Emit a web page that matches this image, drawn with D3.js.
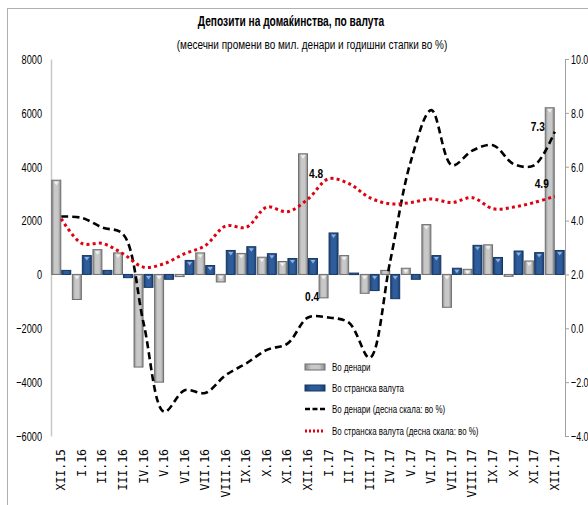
<!DOCTYPE html>
<html><head><meta charset="utf-8">
<script src="https://cdn.jsdelivr.net/npm/d3@7/dist/d3.min.js"></script>
<style>
html,body{margin:0;padding:0;background:#fff;}
svg{display:block;}
</style></head>
<body>
<svg id="chart" width="588" height="505"></svg>
<script>
const categories = ["XII.15","I.16","II.16","III.16","IV.16","V.16","VI.16","VII.16","VIII.16","IX.16","X.16","XI.16","XII.16","I.17","II.17","III.17","IV.17","V.17","VI.17","VII.17","VIII.17","IX.17","X.17","XI.17","XII.17"];
const denariBars  = [3500,-930,920,800,-3440,-4000,-80,800,-280,780,640,480,4480,-870,700,-700,150,230,1850,-1220,190,1100,-70,500,6190];
const foreignBars = [150,700,150,-120,-480,-180,520,330,890,1030,770,590,590,1540,50,-600,-900,-180,700,230,1080,630,870,810,890];
const denariRate  = [4.15,4.1,3.74,3.5,0.2,-3.1,-2.3,-2.4,-1.74,-1.3,-0.8,-0.57,0.4,0.4,0.2,-1.1,2.5,6.2,8.1,6.05,6.6,6.8,6.1,6.05,7.3];
const foreignRate = [4.07,3.15,3.15,2.77,2.27,2.4,2.77,3.07,3.8,3.75,4.5,4.33,4.8,5.55,5.37,4.85,4.62,4.67,4.8,4.67,4.85,4.44,4.5,4.67,4.9];
const leftTicks  = [-6000,-4000,-2000,0,2000,4000,6000,8000];
const rightTicks = [-4,-2,0,2,4,6,8,10];
const titleText = "Депозити на домаќинства, по валута";
const subtitleText = "(месечни промени во мил. денари и годишни стапки во %)";
const legendLabels = ["Во денари","Во странска валута","Во денари (десна скала: во %)","Во странска валута (десна скала: во %)"];
const pointLabels = [{series:"d",i:12,text:"0.4"},{series:"f",i:12,text:"4.8"},{series:"d",i:24,text:"7.3"},{series:"f",i:24,text:"4.9"}];

const svg = d3.select("#chart");
const FONT = "'Liberation Sans',Arial,sans-serif";

function ctext(parent, x, y, txt, size, sx, anchor, weight){
  return parent.append("text")
    .attr("transform",`translate(${x},${y}) scale(${sx},1)`)
    .attr("text-anchor",anchor||"start")
    .style("font-family",FONT).style("font-size",size+"px")
    .style("font-weight",weight||"normal").attr("fill","#000").text(txt);
}

const defs = svg.append("defs");
function grad(id, edge, mid){
  const g = defs.append("linearGradient").attr("id",id).attr("x1","0").attr("x2","1").attr("y1","0").attr("y2","0");
  g.append("stop").attr("offset","0%").attr("stop-color",edge);
  g.append("stop").attr("offset","30%").attr("stop-color",mid);
  g.append("stop").attr("offset","70%").attr("stop-color",mid);
  g.append("stop").attr("offset","100%").attr("stop-color",edge);
}
grad("gGray","#8a8a8a","#c8c8c8");
grad("gBlue","#1b3f72","#2f5d9c");

// frame
svg.append("rect").attr("x",7.5).attr("y",8.5).attr("width",700).attr("height",700)
  .attr("fill","none").attr("stroke","#b0b0b0");

const x0 = d3.scaleBand().domain(categories).range([51,565]).paddingInner(0.03).paddingOuter(0.015);
const x1 = d3.scaleBand().domain(["d","f"]).range([0,x0.bandwidth()]).padding(0);
const yL = d3.scaleLinear().domain([-6000,8000]).range([436,59]);
const yR = d3.scaleLinear().domain([-4,10]).range([436,59]);

// title
ctext(svg, 291, 26, titleText, 15, 0.68, "middle", "bold");
ctext(svg, 312, 49, subtitleText, 13.5, 0.74, "middle");

// axes with condensed labels
function condenseAxis(g, sx){
  g.selectAll(".tick text").each(function(){
    const t = d3.select(this);
    const x = +t.attr("x");
    t.attr("x",0).attr("transform",`translate(${x},0) scale(${sx},1)`)
     .style("font-family",FONT).style("font-size","13.5px").attr("fill","#000");
  });
}
const axL = d3.axisLeft(yL).tickValues(leftTicks).tickSize(0).tickPadding(9).tickFormat(d3.format("d"));
const gL = svg.append("g").attr("transform","translate(51,0)").call(axL);
gL.select(".domain").attr("stroke","#c8c8c8").attr("stroke-width",1.5);
condenseAxis(gL, 0.68);

const axR = d3.axisRight(yR).tickValues(rightTicks).tickSize(4).tickPadding(2).tickFormat(d3.format(".1f"));
const gR = svg.append("g").attr("transform","translate(565,0)").call(axR);
gR.select(".domain").attr("stroke","#a0a0a0");
gR.selectAll(".tick line").attr("stroke","#a0a0a0");
condenseAxis(gR, 0.66);

// x labels
const gx = svg.append("g");
gx.selectAll("text").data(categories).enter().append("text")
  .attr("transform",d=>`translate(${x0(d)+x0.bandwidth()/2+4},449) rotate(-90)`)
  .attr("text-anchor","end")
  .style("font-family","'DejaVu Sans Mono',monospace").style("font-size","11.5px")
  .text(d=>d);

// bars
function drawBars(values, key, fill, stroke, tri){
  const g = svg.append("g");
  const w = x1.bandwidth();
  const items = values.map((v,i)=>({v,i}));
  g.selectAll("rect").data(items).enter().append("rect")
    .attr("x",d=>x0(categories[d.i])+x1(key)+0.5)
    .attr("width",w-1)
    .attr("y",d=>Math.min(yL(d.v),yL(0)))
    .attr("height",d=>Math.max(1.5,Math.abs(yL(d.v)-yL(0))))
    .attr("fill",fill).attr("stroke",stroke).attr("stroke-width",1);
  g.selectAll("path").data(items.filter(d=>Math.abs(yL(d.v)-yL(0))>5)).enter().append("path")
    .attr("d",d=>{
      const xs = x0(categories[d.i])+x1(key);
      const cx = xs + w/2, top = Math.min(yL(d.v),yL(0))+1.5;
      return `M${cx-2.5},${top}L${cx+2.5},${top}L${cx},${top+3.5}Z`;
    }).attr("fill",tri);
}
drawBars(denariBars,"d","url(#gGray)","#6e6e6e","#f0f0f0");
drawBars(foreignBars,"f","url(#gBlue)","#173660","#8fb0dc");

// lines
const cx = (i)=>x0(categories[i])+x0.bandwidth()/2;
const line = d3.line().x((d,i)=>cx(i)).y(d=>yR(d)).curve(d3.curveCatmullRom.alpha(0.5));
svg.append("path").datum(denariRate).attr("d",line).attr("fill","none")
  .attr("stroke","#000").attr("stroke-width",2.6).attr("stroke-dasharray","7,4");
svg.append("path").datum(foreignRate).attr("d",line).attr("fill","none")
  .attr("stroke","#e0000f").attr("stroke-width",3).attr("stroke-dasharray","3,3.2");

// point labels
const labelPos = {"0.4":[-3,-17],"4.8":[1,-21],"7.3":[-24,-1],"4.9":[-20,-8]};
pointLabels.forEach(p=>{
  const v = p.series==="d"?denariRate[p.i]:foreignRate[p.i];
  const off = labelPos[p.text];
  ctext(svg, cx(p.i)+off[0], yR(v)+off[1], p.text, 13, 0.78, "start", "bold");
});

// legend
const lg = svg.append("g").attr("transform","translate(305,0)");
const ly = [367,388,409,431];
lg.append("rect").attr("x",0).attr("y",ly[0]-3).attr("width",20).attr("height",6).attr("fill","url(#gGray)").attr("stroke","#6e6e6e");
lg.append("rect").attr("x",0).attr("y",ly[1]-3).attr("width",20).attr("height",6).attr("fill","url(#gBlue)").attr("stroke","#173660");
lg.append("line").attr("x1",0).attr("x2",20).attr("y1",ly[2]).attr("y2",ly[2]).attr("stroke","#000").attr("stroke-width",2.6).attr("stroke-dasharray","5,2.5");
lg.append("line").attr("x1",0).attr("x2",20).attr("y1",ly[3]).attr("y2",ly[3]).attr("stroke","#e0000f").attr("stroke-width",3).attr("stroke-dasharray","2,2");
legendLabels.forEach((t,i)=>{
  ctext(lg, 27, ly[i]+4, t, 11, 0.72, "start");
});
</script>
</body></html>
